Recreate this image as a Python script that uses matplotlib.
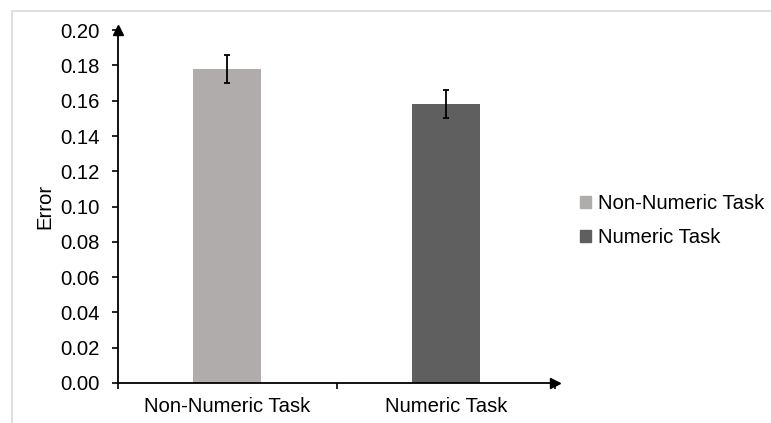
import matplotlib.pyplot as plt
from matplotlib.patches import Rectangle, Patch

plt.rcParams['font.family'] = ['Liberation Sans', 'DejaVu Sans']

categories = ["Non-Numeric Task", "Numeric Task"]
error_mean = [0.178, 0.158]
error_sem = [0.008, 0.008]
bar_colors = ["#b0acab", "#5f5f5f"]

fs = 14.6

fig = plt.figure(figsize=(7.71, 4.23), dpi=100)
ax = fig.add_axes([0.153, 0.0946, 0.567, 0.834])

x = range(len(categories))
ax.bar(x, error_mean, width=0.31, color=bar_colors, zorder=2)
ax.errorbar(x, error_mean, yerr=error_sem, fmt='none', ecolor='black',
            elinewidth=1.3, capsize=2.5, capthick=1.3, zorder=3)

ax.set_xlim(-0.5, 1.5)
ax.set_ylim(0, 0.20)
ax.set_yticks([i * 0.02 for i in range(11)])
ax.set_yticklabels(["%.2f" % (i * 0.02) for i in range(11)])
ax.set_xticks([0, 1])
ax.set_xticklabels(categories)
ax.set_xticks([-0.5, 0.5, 1.5], minor=True)
ax.tick_params(axis='x', which='major', length=0, pad=10, labelsize=fs)
ax.tick_params(axis='x', which='minor', length=4, width=1.2, direction='out')
ax.tick_params(axis='y', length=4, width=1.2, pad=9, labelsize=fs)
ax.set_ylabel("Error", fontsize=fs, labelpad=4)

for s in ['top', 'right']:
    ax.spines[s].set_visible(False)
for s in ['left', 'bottom']:
    ax.spines[s].set_linewidth(1.3)

ax.plot(1, 0, '>', color='black', markersize=7, transform=ax.transAxes, clip_on=False)
ax.plot(0, 1, '^', color='black', markersize=7, transform=ax.transAxes, clip_on=False)

handles = [Patch(color=c) for c in bar_colors]
fig.legend(handles, categories, loc='upper left', bbox_to_anchor=(0.729, 0.585),
           frameon=False, fontsize=fs, handlelength=0.55, handleheight=0.55,
           handletextpad=0.3, labelspacing=0.75)

fig.patches.append(Rectangle((0.016, -0.05), 1.1, 1.024, transform=fig.transFigure,
                             fill=False, edgecolor='#d9d9d9', linewidth=1.2))

fig.savefig("out.png", dpi=100)
